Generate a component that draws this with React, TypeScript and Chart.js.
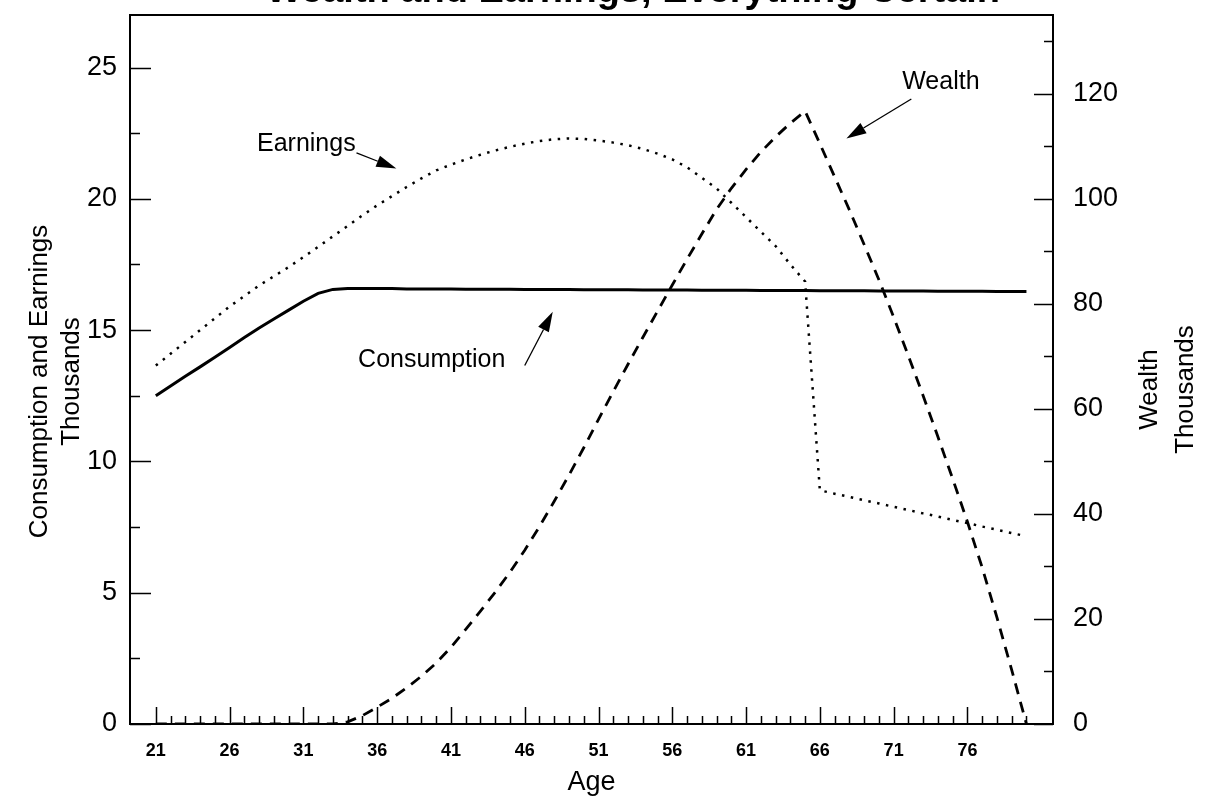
import React, { useEffect, useRef } from "react";
import { Chart, registerables } from "chart.js";

Chart.register(...registerables);

// ---- data ----
const ages = [
  21, 22, 23, 24, 25, 26, 27, 28, 29, 30, 31, 32, 33, 34, 35, 36, 37, 38, 39, 40,
  41, 42, 43, 44, 45, 46, 47, 48, 49, 50, 51, 52, 53, 54, 55, 56, 57, 58, 59, 60,
  61, 62, 63, 64, 65, 66, 67, 68, 69, 70, 71, 72, 73, 74, 75, 76, 77, 78, 79, 80,
];

// thousands, left axis
const consumption = [
  12.5, 12.87, 13.24, 13.6, 13.97, 14.34, 14.72, 15.08, 15.42, 15.76, 16.1, 16.4, 16.55, 16.58, 16.58, 16.58, 16.58, 16.57, 16.57, 16.57,
  16.57, 16.56, 16.56, 16.56, 16.56, 16.55, 16.55, 16.55, 16.55, 16.54, 16.54, 16.54, 16.54, 16.53, 16.53, 16.53, 16.53, 16.52, 16.52, 16.52,
  16.52, 16.51, 16.51, 16.51, 16.51, 16.5, 16.5, 16.5, 16.5, 16.49, 16.49, 16.49, 16.49, 16.48, 16.48, 16.48, 16.48, 16.47, 16.47, 16.47,
];

// thousands, left axis
const earnings = [
  13.65, 14.1, 14.55, 15.0, 15.45, 15.9, 16.3, 16.7, 17.05, 17.4, 17.78, 18.17, 18.57, 18.97, 19.37, 19.75, 20.1, 20.45, 20.78, 21.08,
  21.3, 21.5, 21.68, 21.84, 21.98, 22.1, 22.2, 22.27, 22.3, 22.28, 22.22, 22.14, 22.04, 21.9, 21.72, 21.5, 21.2, 20.8, 20.4, 19.85,
  19.3, 18.75, 18.2, 17.5, 16.85, 8.9, 8.77, 8.65, 8.52, 8.4, 8.27, 8.15, 8.02, 7.9, 7.77, 7.65, 7.52, 7.4, 7.27, 7.15,
];

// thousands, right axis
const wealth = [
  0, 0, 0, 0, 0, 0, 0, 0, 0, 0, 0, 0, 0, 0.4, 1.6, 3.2, 4.9, 6.9, 9.1, 11.6,
  14.6, 18.0, 21.5, 25.1, 28.9, 33.1, 37.6, 42.4, 47.4, 52.6, 58.0, 63.3, 68.5, 73.6, 78.6, 83.6, 88.5, 93.3, 98.0, 102.0,
  105.6, 108.9, 111.8, 114.4, 116.7, 110.5, 104.2, 97.9, 91.3, 84.6, 77.5, 70.1, 62.5, 54.7, 46.7, 38.5, 29.8, 20.3, 10.3, 0,
];

const xTickLabels = [21, 26, 31, 36, 41, 46, 51, 56, 61, 66, 71, 76];
const leftTickValues = [0, 5, 10, 15, 20, 25];
const rightTickValues = [0, 20, 40, 60, 80, 100, 120];

const titleText = "Wealth and Earnings, Everything Certain";
const leftTitle = ["Consumption and Earnings", "Thousands"];
const rightTitle = ["Wealth", "Thousands"];
const xTitle = "Age";

// annotation labels (position in data units: age, left-axis value)
const annotationLabels = ["Earnings", "Wealth", "Consumption"];
const annotationLabelAt = [
  [31.2, 22.1],
  [74.2, 24.45],
  [39.7, 13.85],
];
const annotationArrowFrom = [
  [34.6, 21.75],
  [72.2, 23.8],
  [46.0, 13.65],
];
const annotationArrowTo = [
  [37.3, 21.15],
  [67.8, 22.3],
  [47.9, 15.7],
];

const FONT = "'Liberation Sans', Arial, Helvetica, sans-serif";

const framePlugin = {
  id: "frameTicksAnnotations",
  afterDatasetsDraw(chart: any) {
    const { ctx, chartArea: a, scales } = chart;
    const xs = scales.x;
    const yl = scales.y;
    const yr = scales.y1;
    ctx.save();
    ctx.strokeStyle = "#000";
    ctx.fillStyle = "#000";
    // frame
    ctx.lineWidth = 2;
    ctx.strokeRect(a.left, a.top, a.right - a.left, a.bottom - a.top);

    // inward ticks
    ctx.lineWidth = 1.5;
    ctx.beginPath();
    for (let v = 0; v <= yl.max; v += 2.5) {
      const y = Math.round(yl.getPixelForValue(v)) + 0.5;
      const len = v % 5 === 0 ? 21 : 10;
      ctx.moveTo(a.left, y);
      ctx.lineTo(a.left + len, y);
    }
    for (let v = 0; v <= yr.max; v += 10) {
      const y = Math.round(yr.getPixelForValue(v)) + 0.5;
      const len = v % 20 === 0 ? 19 : 9;
      ctx.moveTo(a.right, y);
      ctx.lineTo(a.right - len, y);
    }
    ages.forEach((age) => {
      const x = Math.round(xs.getPixelForValue(age)) + 0.5;
      const len = xTickLabels.includes(age) ? 17 : 8;
      ctx.moveTo(x, a.bottom);
      ctx.lineTo(x, a.bottom - len);
    });
    ctx.stroke();

    // annotations
    ctx.font = `25px ${FONT}`;
    ctx.textAlign = "center";
    ctx.textBaseline = "middle";
    annotationLabels.forEach((label, i) => {
      const lx = xs.getPixelForValue(annotationLabelAt[i][0]);
      const ly = yl.getPixelForValue(annotationLabelAt[i][1]);
      ctx.fillText(label, lx, ly);
      const fx = xs.getPixelForValue(annotationArrowFrom[i][0]);
      const fy = yl.getPixelForValue(annotationArrowFrom[i][1]);
      const tx = xs.getPixelForValue(annotationArrowTo[i][0]);
      const ty = yl.getPixelForValue(annotationArrowTo[i][1]);
      const ang = Math.atan2(ty - fy, tx - fx);
      const headLen = 20;
      const headHalf = 6;
      const bx = tx - headLen * Math.cos(ang);
      const by = ty - headLen * Math.sin(ang);
      ctx.lineWidth = 1.3;
      ctx.beginPath();
      ctx.moveTo(fx, fy);
      ctx.lineTo(bx, by);
      ctx.stroke();
      ctx.beginPath();
      ctx.moveTo(tx, ty);
      ctx.lineTo(bx + headHalf * Math.sin(ang), by - headHalf * Math.cos(ang));
      ctx.lineTo(bx - headHalf * Math.sin(ang), by + headHalf * Math.cos(ang));
      ctx.closePath();
      ctx.fill();
    });

    // axis titles (left and right, both reading bottom-to-top)
    ctx.font = `26px ${FONT}`;
    const cyL = (a.top + a.bottom) / 2 + 12;
    const cyR = (a.top + a.bottom) / 2 + 20;
    const leftXs = [a.left - 90, a.left - 58];
    leftTitle.forEach((t, i) => {
      ctx.save();
      ctx.translate(leftXs[i], cyL);
      ctx.rotate(-Math.PI / 2);
      ctx.fillText(t, 0, 0);
      ctx.restore();
    });
    const rightXs = [a.right + 97, a.right + 133];
    rightTitle.forEach((t, i) => {
      ctx.save();
      ctx.translate(rightXs[i], cyR);
      ctx.rotate(-Math.PI / 2);
      ctx.fillText(t, 0, 0);
      ctx.restore();
    });
    ctx.restore();
  },
};

export default function App() {
  const canvasRef = useRef<HTMLCanvasElement | null>(null);

  useEffect(() => {
    const canvas = canvasRef.current;
    if (!canvas) return;
    Chart.defaults.font.family = FONT;
    Chart.defaults.color = "#000";

    const chart = new Chart(canvas, {
      type: "line",
      data: {
        datasets: [
          {
            label: "Consumption",
            data: ages.map((x, i) => ({ x, y: consumption[i] })),
            yAxisID: "y",
            borderColor: "#000",
            borderWidth: 3,
            pointRadius: 0,
            tension: 0,
          },
          {
            label: "Earnings",
            data: ages.map((x, i) => ({ x, y: earnings[i] })),
            yAxisID: "y",
            borderColor: "#000",
            borderWidth: 2.5,
            borderDash: [2.5, 6.5],
            pointRadius: 0,
            tension: 0,
          },
          {
            label: "Wealth",
            data: ages.map((x, i) => ({ x, y: wealth[i] })),
            yAxisID: "y1",
            borderColor: "#000",
            borderWidth: 2.8,
            borderDash: [11, 8],
            pointRadius: 0,
            tension: 0,
          },
        ],
      },
      options: {
        animation: false,
        responsive: false,
        devicePixelRatio: 1,
        layout: { padding: { top: 15, left: 0, right: 0, bottom: 0 } },
        plugins: {
          legend: { display: false },
          tooltip: { enabled: false },
          title: { display: false },
        },
        scales: {
          x: {
            type: "linear",
            min: 19.25,
            max: 81.8,
            grid: { display: false, drawTicks: false },
            border: { display: false },
            afterBuildTicks: (scale: any) => {
              scale.ticks = xTickLabels.map((v) => ({ value: v }));
            },
            afterFit: (scale: any) => {
              scale.height = 80;
              scale.paddingLeft = 0;
              scale.paddingRight = 0;
            },
            ticks: {
              autoSkip: false,
              maxRotation: 0,
              padding: 16,
              color: "#000",
              font: { size: 18, weight: "bold", family: FONT },
              callback: (v: any) => String(v),
            },
            title: {
              display: true,
              text: xTitle,
              color: "#000",
              font: { size: 27, family: FONT },
              padding: { top: 0, bottom: 5 },
            },
          },
          y: {
            type: "linear",
            position: "left",
            min: 0,
            max: 27,
            grid: { display: false, drawTicks: false },
            border: { display: false },
            afterBuildTicks: (scale: any) => {
              scale.ticks = leftTickValues.map((v) => ({ value: v }));
            },
            afterFit: (scale: any) => {
              scale.width = 130;
              scale.paddingTop = 0;
              scale.paddingBottom = 0;
            },
            ticks: {
              padding: 13,
              color: "#000",
              font: { size: 27, family: FONT },
              callback: (v: any) => String(v),
            },
          },
          y1: {
            type: "linear",
            position: "right",
            min: 0,
            max: 135,
            grid: { display: false, drawTicks: false },
            border: { display: false },
            afterBuildTicks: (scale: any) => {
              scale.ticks = rightTickValues.map((v) => ({ value: v }));
            },
            afterFit: (scale: any) => {
              scale.width = 160;
              scale.paddingTop = 0;
              scale.paddingBottom = 0;
            },
            ticks: {
              padding: 20,
              color: "#000",
              font: { size: 27, family: FONT },
              callback: (v: any) => String(v),
            },
          },
        },
      },
      plugins: [framePlugin],
    } as any);

    return () => chart.destroy();
  }, []);

  return (
    <div
      style={{
        position: "fixed",
        left: 0,
        top: 0,
        width: 1213,
        height: 804,
        background: "#fff",
        overflow: "hidden",
      }}
    >
      <canvas ref={canvasRef} width={1213} height={804} style={{ display: "block" }} />
      <div
        style={{
          position: "absolute",
          right: 213,
          top: -30,
          font: `bold 38px ${FONT}`,
          lineHeight: "38px",
          whiteSpace: "nowrap",
          color: "#000",
        }}
      >
        {titleText}
      </div>
    </div>
  );
}
